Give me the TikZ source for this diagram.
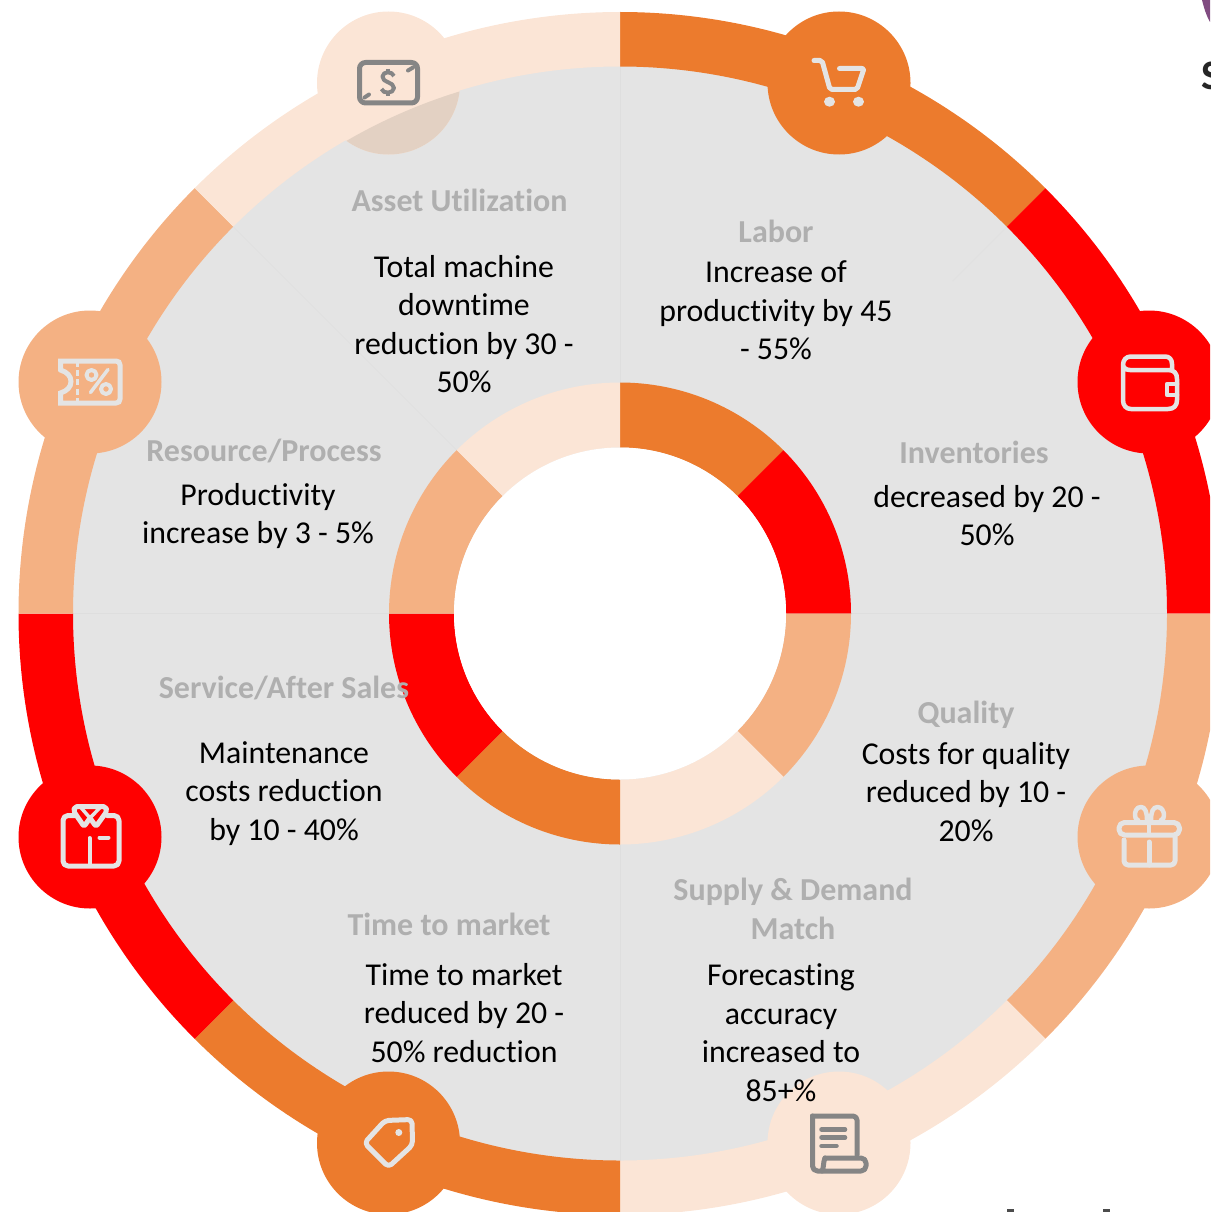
\documentclass[tikz,border=0pt]{standalone}
\usepackage{fontspec}
\setmainfont[Ligatures=NoCommon]{Carlito}
\definecolor{cOrange}{HTML}{EC7B2D}
\definecolor{cRed}{HTML}{FF0000}
\definecolor{cMid}{HTML}{F4B183}
\definecolor{cPale}{HTML}{FBE5D6}
\definecolor{cGrey}{HTML}{E4E4E4}
\definecolor{cLine}{HTML}{DEDEDE}
\definecolor{cTitle}{HTML}{AFAFAF}
\definecolor{cIconDark}{HTML}{858585}
\definecolor{cTint}{HTML}{E3D1C3}
\tikzset{
  hub/.style={circle,minimum size=143pt,inner sep=0pt,draw=none},
  title/.style={text=cTitle,font=\fontsize{32}{38.5}\selectfont\bfseries,align=center,inner sep=0pt},
  body/.style={text=black,font=\fontsize{31.8}{38.5}\selectfont,align=center,inner sep=0pt},
  iconline/.style={draw=cGrey,line width=5pt,line cap=round,line join=round,fill=none},
  icondark/.style={draw=cIconDark,line width=5pt,line cap=round,line join=round,fill=none},
  divider/.style={draw=cLine,line width=0.7pt}
}
\newcommand{\annsec}[5]{% colour, start, end, inner r, outer r
  \fill[#1,shift={(620,-613.5)}] (#2:#5) arc[start angle=#2,end angle=#3,radius=#5] -- (#3:#4) arc[start angle=#3,end angle=#2,radius=#4] -- cycle;}
\begin{document}
\begin{tikzpicture}[x=1pt,y=1pt]
\useasboundingbox (0,-1212) rectangle (1210,0);
\clip (0,-1212) rectangle (1210,0);
% grey disc
\fill[cGrey] (620,-613.5) circle[radius=548];
% dividers
\begin{scope}[shift={(620,-613.5)}]
\foreach \a in {0,90,135,180,270} \draw[divider] (\a:231) -- (\a:547);
\draw[divider,cLine!50!cGrey] (45:470) -- (45:547);
\end{scope}
% asset hub lies partly behind the grey
\node[hub,fill=cPale] (assetHub) at (388.5,-83) {};
\begin{scope}
\clip (620,-613.5) circle[radius=546];
\fill[cTint] (388.5,-83) circle[radius=71.5];
\end{scope}
% outer ring
\foreach \c/\s/\e in {cOrange/90/45,cRed/45/0,cMid/0/-45,cPale/-45/-90,cOrange/-90/-135,cRed/-135/-180,cMid/180/135,cPale/135/90}{
  \annsec{\c}{\s}{\e}{547}{601.5}
  \annsec{\c}{\s}{\e}{166}{231}
}
\fill[white] (620,-613.5) circle[radius=166];
% hubs
\node[hub,fill=cOrange] (laborHub) at (839,-83) {};
\node[hub,fill=cRed] (inventHub) at (1149,-382) {};
\node[hub,fill=cMid] (qualityHub) at (1149,-837) {};
\node[hub,fill=cPale] (supplyHub) at (839,-1143) {};
\node[hub,fill=cOrange] (marketHub) at (388.5,-1143) {};
\node[hub,fill=cRed] (serviceHub) at (90,-837) {};
\node[hub,fill=cMid] (resourceHub) at (90,-382) {};
% asset icon: banknote
\draw[icondark,rounded corners=6pt] (359.5,-62.5) rectangle (417.5,-103);
\draw[icondark,line width=4pt] (364.5,-97.5) -- (369,-94.5);
\draw[icondark,line width=4pt] (408,-70.5) -- (413,-67.5);
\draw[icondark,line width=4pt,line cap=butt] (394,-76) .. controls (392,-71) and (383,-71) .. (382.5,-76.5) .. controls (382,-83) and (394,-81.5) .. (394,-88) .. controls (393.5,-94) and (383,-94) .. (381.5,-89);
\draw[icondark,line width=4pt,line cap=butt] (388,-69) -- (388,-72.5) (388,-93) -- (388,-96.5);
% labor icon: cart
\draw[iconline,rounded corners=2pt] (814,-60.5) -- (822,-60.5) -- (830,-89.5) -- (857,-89.5) -- (864,-68.5) -- (839.5,-68.5);
\fill[cGrey] (829.5,-101.7) ellipse[x radius=5.5,y radius=5];
\fill[cGrey] (858.5,-101.7) ellipse[x radius=5.5,y radius=5];
% inventories icon: wallet
\draw[iconline,line width=4.5pt] (1172,-369) -- (1172,-364) .. controls (1172,-359) and (1169,-356.5) .. (1165,-356.5) -- (1131,-356.5) .. controls (1126,-356.5) and (1123,-360) .. (1123,-365) -- (1123,-400) .. controls (1123,-405.5) and (1126,-409) .. (1131,-409) -- (1168,-409) .. controls (1174,-409) and (1177,-405.5) .. (1177,-400) -- (1177,-379) .. controls (1177,-373) and (1174,-370) .. (1168,-370) -- (1130,-370) .. controls (1126,-370) and (1123,-368) .. (1123,-364);
\draw[iconline,line width=4.5pt] (1177,-384) -- (1167,-384) -- (1167,-395) -- (1177,-395);
% quality icon: gift
\draw[iconline,rounded corners=5.5pt] (1119,-822.5) rectangle (1179.5,-835);
\draw[iconline,rounded corners=4pt] (1124,-840) -- (1124,-865) -- (1175,-865) -- (1175,-836);
\draw[iconline] (1149,-842) -- (1149,-865);
\draw[iconline,line width=3.5pt] (1149,-819) -- (1149,-834);
\draw[iconline,line width=4.5pt] (1147,-820) .. controls (1147,-812) and (1145,-807) .. (1141,-807) .. controls (1136,-807) and (1135,-812) .. (1135,-815) .. controls (1135,-818) and (1136,-820) .. (1138,-820);
\draw[iconline,line width=4.5pt] (1151,-820) .. controls (1151,-812) and (1153,-807) .. (1157.5,-807) .. controls (1162,-807) and (1164,-812) .. (1164,-815) .. controls (1164,-818) and (1163,-820) .. (1161,-820);
% supply icon: scroll
\draw[icondark,rounded corners=4pt] (857,-1155) -- (857,-1116) -- (812.5,-1116);
\draw[icondark,rounded corners=5pt] (812.5,-1116) -- (812.5,-1171) -- (866,-1171) -- (866,-1158) -- (825,-1158);
\draw[icondark] (825,-1158) .. controls (823,-1162) and (824,-1168) .. (822,-1171);
\draw[icondark,line width=4.5pt] (821.5,-1129.5) -- (845,-1129.5) (821.5,-1137.5) -- (845,-1137.5) (821.5,-1146) -- (836.5,-1146);
% market icon: tag
\draw[iconline,rounded corners=4pt] (385,-1120.5) -- (412,-1119.5) -- (412.5,-1145) -- (388.5,-1167) -- (364.5,-1143) -- cycle;
\fill[cGrey] (398.8,-1132.5) circle[radius=3.5];
% service icon: shirt
\draw[iconline,rounded corners=5pt] (75,-815.5) -- (63,-815.5) -- (63,-866) -- (119,-866) -- (119,-815.5) -- (107,-815.5);
\draw[iconline,rounded corners=2pt] (75,-806.5) -- (105.5,-806.5) -- (107,-811) -- (96,-826.5) -- (90,-818) -- (84,-826.5) -- (73.5,-811) -- cycle;
\draw[iconline,line width=3.5pt] (80,-806.5) -- (90,-818) -- (101,-806.5);
\draw[iconline,line width=4pt] (89.5,-838) -- (89.5,-866);
\draw[iconline,line width=4pt] (99.5,-837.5) -- (108.5,-837.5);
% resource icon: ticket
\draw[iconline,line join=miter] (60.5,-370) -- (60.5,-361) -- (116,-361) .. controls (118.5,-361) and (120,-362.5) .. (120,-365) -- (120,-399) .. controls (120,-401.5) and (118.5,-403) .. (116,-403) -- (60.5,-403) -- (60.5,-393) .. controls (67,-391) and (71,-387) .. (71,-381.5) .. controls (71,-376) and (67,-372) .. (60.5,-370);
\draw[draw=cGrey,line width=3.5pt,dash pattern=on 6pt off 3.2pt] (77.5,-361) -- (77.5,-403);
\draw[iconline,line width=4pt] (91.5,-375) circle[radius=5];
\draw[iconline,line width=4pt] (106,-389) circle[radius=5];
\draw[iconline,line width=3.5pt] (90.5,-392.5) -- (108,-369.5);
% texts
\node[title] (tAsset) at (459.5,-200) {Asset Utilization};
\node[body] (bAsset) at (464,-324) {Total machine\\downtime\\reduction by 30 -\\50\%};
\node[title] (tLabor) at (776,-231) {Labor};
\node[body] (bLabor) at (776,-310.5) {Increase of\\productivity by 45\\- 55\%};
\node[title] (tInvent) at (974,-452) {Inventories};
\node[body] (bInvent) at (987,-515.5) {decreased by 20 -\\50\%};
\node[title] (tResource) at (264,-451) {Resource/Process};
\node[body] (bResource) at (258,-516) {Productivity\\increase by 3 - 5\%};
\node[title] (tService) at (284,-688) {Service/After Sales};
\node[body] (bService) at (284,-793.5) {Maintenance\\costs reduction\\by 10 - 40\%};
\node[title] (tQuality) at (966,-714.5) {Quality};
\node[body] (bQuality) at (966,-792) {Costs for quality\\reduced by 10 -\\20\%};
\node[title] (tSupply) at (793,-909) {Supply \& Demand\\Match};
\node[body] (bSupply) at (781,-1032.5) {Forecasting\\accuracy\\increased to\\85+\%};
\node[title] (tMarket) at (449,-924) {Time to market};
\node[body] (bMarket) at (464,-1013) {Time to market\\reduced by 20 -\\50\% reduction};
% stray fragments at the crop edge
\node[anchor=west,inner sep=0pt,text=black!85,font=\fontsize{42}{42}\selectfont\bfseries] (edgeS) at (1201,-76) {S};
\fill[violet!60!black,opacity=.7] (1202,0) -- (1210,0) -- (1210,-22) .. controls (1206,-15) and (1204,-8) .. (1202,0);
\fill[black!70] (1007,-1209) rectangle (1014,-1212);
\fill[black!70] (1103,-1209) rectangle (1110,-1212);
\end{tikzpicture}
\end{document}
